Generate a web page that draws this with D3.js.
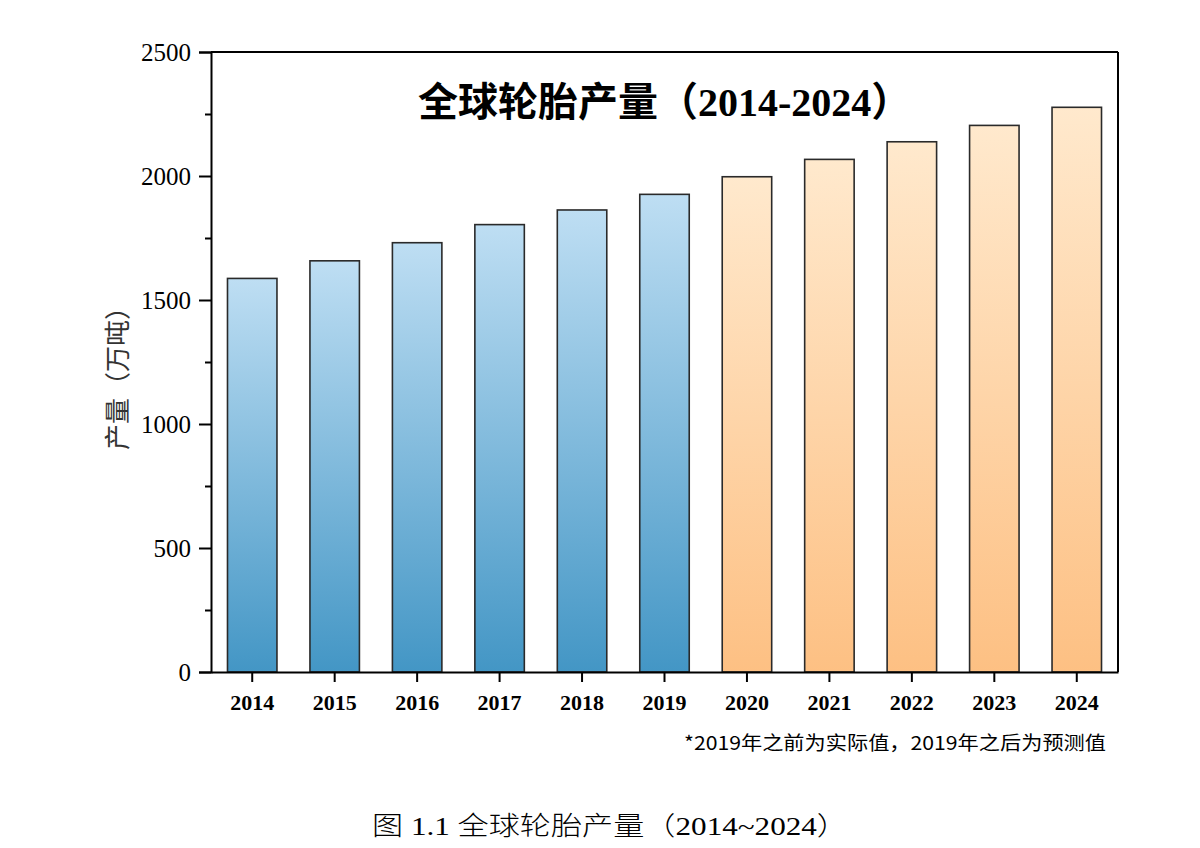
<!DOCTYPE html>
<html>
<head>
<meta charset="utf-8">
<script src="https://cdn.jsdelivr.net/npm/d3@7"></script>
<style>
  body { margin: 0; background: #fff; }
  svg { display: block; }
</style>
</head>
<body>
<div id="chart"></div>
<script>
// Years and tyre output (10k tonnes)
var years = ['2014', '2015', '2016', '2017', '2018', '2019', '2020', '2021', '2022', '2023', '2024'];
var output = [1587, 1658, 1731, 1804, 1863, 1926, 1997, 2067, 2138, 2204, 2277];
var yTicks = [0, 500, 1000, 1500, 2000, 2500];
var yMinorTicks = [250, 750, 1250, 1750, 2250];
var lastActualYear = 2019;

var width = 1200,
  height = 848;

var margin = { top: 52, right: 82, bottom: 176, left: 211 };

var svg = d3.select('#chart')
  .append('svg')
  .attr('width', width)
  .attr('height', height);

// Gradients: light on top, darker at the base
var defs = svg.append('defs');
function addGradient(id, top, bottom) {
  var g = defs.append('linearGradient')
    .attr('id', id)
    .attr('x1', 0).attr('y1', 0)
    .attr('x2', 0).attr('y2', 1);
  g.append('stop').attr('offset', '0%').attr('stop-color', top);
  g.append('stop').attr('offset', '100%').attr('stop-color', bottom);
}
addGradient('blueGrad', '#bedef3', '#4396c5');
addGradient('orangeGrad', '#ffe9cd', '#fdc083');

var x = d3.scaleBand()
  .domain(years)
  .range([margin.left, width - margin.right])
  .paddingInner(0.4)
  .paddingOuter(0.2);

var y = d3.scaleLinear()
  .domain([0, 2500])
  .range([height - margin.bottom, margin.top]);

// Bars
svg.selectAll('rect.bar')
  .data(output)
  .enter()
  .append('rect')
  .attr('class', 'bar')
  .attr('x', function(d, i) { return x(years[i]); })
  .attr('y', function(d) { return y(d); })
  .attr('width', x.bandwidth())
  .attr('height', function(d) { return y(0) - y(d); })
  .attr('fill', function(d, i) {
    return +years[i] <= lastActualYear ? 'url(#blueGrad)' : 'url(#orangeGrad)';
  })
  .attr('stroke', '#2a2a2a')
  .attr('stroke-width', 1.6);

// Frame: top and right edges
svg.append('line')
  .attr('x1', margin.left).attr('x2', width - margin.right)
  .attr('y1', margin.top).attr('y2', margin.top)
  .attr('stroke', '#000').attr('stroke-width', 2);
svg.append('line')
  .attr('x1', width - margin.right).attr('x2', width - margin.right)
  .attr('y1', margin.top).attr('y2', y(0))
  .attr('stroke', '#000').attr('stroke-width', 2);

// Y axis
var yAxis = svg.append('g')
  .attr('transform', 'translate(' + margin.left + ',0)')
  .call(d3.axisLeft(y).tickValues(yTicks).tickSize(12).tickPadding(8).tickFormat(d3.format('d')));

svg.append('g')
  .attr('transform', 'translate(' + margin.left + ',0)')
  .call(d3.axisLeft(y).tickValues(yMinorTicks).tickSize(6).tickFormat(''))
  .call(function(g) { g.select('.domain').remove(); });

// X axis
var xAxis = svg.append('g')
  .attr('transform', 'translate(0,' + y(0) + ')')
  .call(d3.axisBottom(x).tickSize(10).tickPadding(12).tickSizeOuter(0));

svg.selectAll('.domain, .tick line')
  .attr('stroke', '#000')
  .attr('stroke-width', 2);

yAxis.selectAll('text')
  .style('font-family', '"Liberation Serif", "Times New Roman", serif')
  .style('font-size', '25px')
  .attr('fill', '#000');

xAxis.selectAll('text')
  .style('font-family', '"Liberation Serif", "Times New Roman", serif')
  .style('font-size', '22px')
  .style('font-weight', 'bold')
  .attr('fill', '#000');

// Y axis title
svg.append('text')
  .attr('transform', 'translate(127,372) rotate(-90)')
  .attr('text-anchor', 'middle')
  .style('font-family', '"Noto Sans CJK SC", sans-serif')
  .style('font-size', '26px')
  .attr('fill', '#333')
  .text('产量（万吨）');

// Chart title
var title = svg.append('text')
  .attr('x', 418)
  .attr('y', 116)
  .attr('text-anchor', 'start')
  .attr('fill', '#000')
  .style('font-weight', 'bold');
title.append('tspan')
  .style('font-family', '"Noto Sans CJK SC", sans-serif')
  .style('font-size', '40px')
  .text('全球轮胎产量（');
title.append('tspan')
  .style('font-family', '"Liberation Serif", serif')
  .style('font-size', '40px')
  .text('2014-2024');
title.append('tspan')
  .style('font-family', '"Noto Sans CJK SC", sans-serif')
  .style('font-size', '40px')
  .text('）');

// Footnote
svg.append('text')
  .attr('x', 1106)
  .attr('y', 750)
  .attr('text-anchor', 'end')
  .attr('textLength', 422)
  .attr('lengthAdjust', 'spacingAndGlyphs')
  .style('font-family', '"Noto Sans CJK SC", sans-serif')
  .style('font-size', '19px')
  .attr('fill', '#000')
  .text('*2019年之前为实际值，2019年之后为预测值');

// Figure caption
svg.append('text')
  .attr('x', 372)
  .attr('y', 835)
  .attr('textLength', 476)
  .attr('lengthAdjust', 'spacingAndGlyphs')
  .style('font-family', '"Liberation Serif", "Noto Sans CJK SC", serif')
  .style('font-size', '26px')
  .style('font-weight', '300')
  .attr('fill', '#000')
  .text('图 1.1 全球轮胎产量（2014~2024）');
</script>
</body>
</html>
